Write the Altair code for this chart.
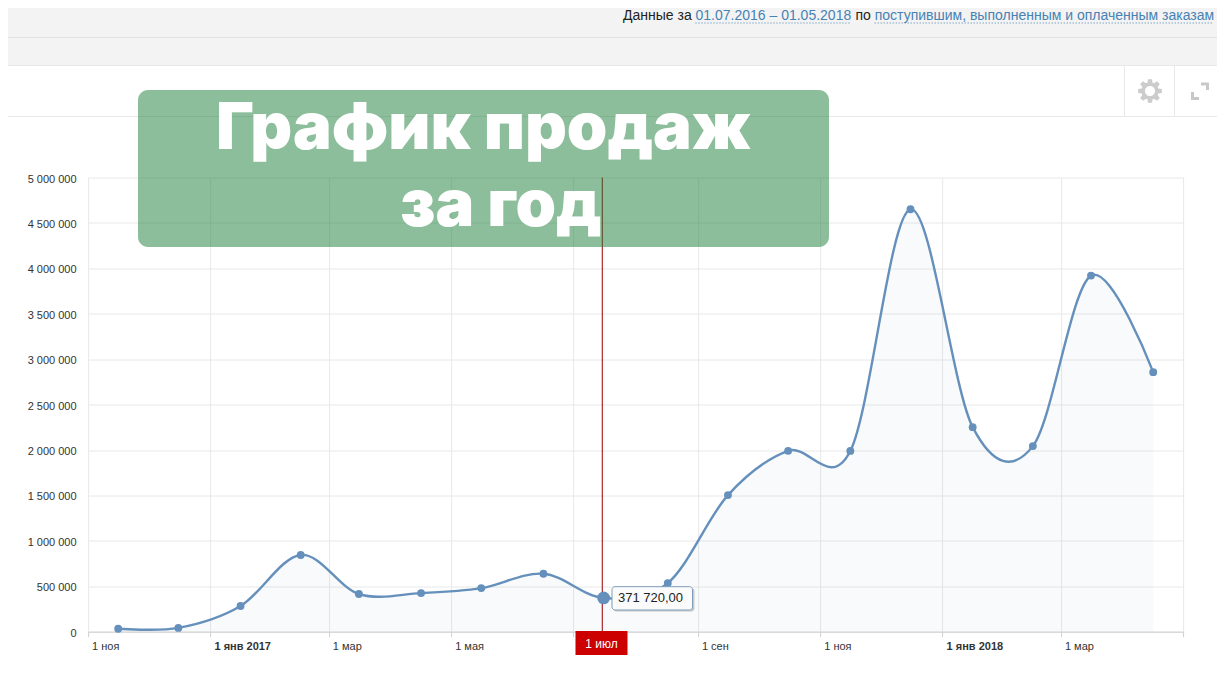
import math
import altair as alt
import pandas as pd

# --- series values
DATES = ["2016-11-16", "2016-12-16", "2017-01-16", "2017-02-15", "2017-03-16", "2017-04-16",
         "2017-05-16", "2017-06-16", "2017-07-16", "2017-08-17", "2017-09-16", "2017-10-16",
         "2017-11-16", "2017-12-16", "2018-01-16", "2018-02-15", "2018-03-16", "2018-04-16"]
VALUES = [33000, 42000, 283000, 845000, 415000, 425000, 480000, 638000, 371720, 535000,
          1504000, 1991000, 1990000, 4650000, 2252000, 2043000, 3920000, 2857000]
Y_TICKS = [0, 500000, 1000000, 1500000, 2000000, 2500000, 3000000, 3500000, 4000000, 4500000, 5000000]
X_TICKS = ["2016-11", "2017-01", "2017-03", "2017-05", "2017-07", "2017-09", "2017-11", "2018-01", "2018-03", "2018-05"]
X_LABELS = ["1 ноя", "1 янв 2017", "1 мар", "1 мая", "", "1 сен", "1 ноя", "1 янв 2018", "1 мар", ""]
HOVER_DATE = "2017-07-15T08:00:00"
HOVER_POINT_DATE = "2017-07-16"
HOVER_VALUE = 371720
HOVER_TEXT = "371 720,00"
HOVER_LABEL = "1 июл"
BANNER = ["График продаж", "за год"]
HEADER = ["Данные за", "01.07.2016 – 01.05.2018", "по", "поступившим, выполненным и оплаченным заказам"]

OX, OY = 88.1, 177.5
W, H = 1095.2, 454.2
LINE = "#6590bb"
FONT = "Liberation Sans"

df = pd.DataFrame({"date": [d + "T00:00:00" for d in DATES], "value": VALUES})
blank = alt.Data(values=[{"a": 1}])


def rect(x1, y1, x2, y2, fill, opacity=1.0, radius=0, stroke=None):
    kw = dict(fill=fill, opacity=opacity, cornerRadius=radius)
    if stroke:
        kw.update(stroke=stroke, strokeWidth=1)
    return alt.Chart(blank).mark_rect(**kw).encode(
        x=alt.value(x1 - OX), x2=alt.value(x2 - OX), y=alt.value(y1 - OY), y2=alt.value(y2 - OY))


def rule(x1, y1, x2, y2, color, width=1.0, dash=None):
    kw = dict(color=color, strokeWidth=width)
    if dash:
        kw.update(strokeDash=dash)
    return alt.Chart(blank).mark_rule(**kw).encode(
        x=alt.value(x1 - OX), x2=alt.value(x2 - OX), y=alt.value(y1 - OY), y2=alt.value(y2 - OY))


def label(x, y, s, color="#222", size=13, weight="normal", align="left", font=FONT, base="alphabetic"):
    return alt.Chart(alt.Data(values=[{"t": s}])).mark_text(
        color=color, fontSize=size, fontWeight=weight, align=align, font=font, baseline=base, clip=False
    ).encode(x=alt.value(x - OX), y=alt.value(y - OY), text="t:N")


def gear_path(teeth=8, outer=1.0, body=0.72, hole=0.42):
    pts = []
    step = 2 * math.pi / teeth
    for i in range(teeth):
        a = i * step
        for da, r in [(-0.30, body), (-0.17, outer), (0.17, outer), (0.30, body)]:
            pts.append((r * math.cos(a + da * step / 0.785), r * math.sin(a + da * step / 0.785)))
    d = "M" + " L".join(f"{x:.3f},{y:.3f}" for x, y in pts) + " Z "
    d += f"M{hole},0 A{hole},{hole} 0 1,0 {-hole},0 A{hole},{hole} 0 1,0 {hole},0 Z"
    return d


gear = alt.Chart(blank).mark_point(
    shape=gear_path(), filled=True, fill="#cccccc", opacity=1, size=576, strokeWidth=0
).encode(x=alt.value(1150 - OX), y=alt.value(91 - OY))

label_map = "{" + ",".join(f"'{k}':'{v}'" for k, v in zip(X_TICKS, X_LABELS)) + "}"
x_enc = alt.X(
    "date:T",
    scale=alt.Scale(domain=["2016-11-01T00:00:00", "2018-05-01T00:00:00"], nice=False),
    axis=alt.Axis(
        title=None, values=[t + "-01T00:00:00" for t in X_TICKS], format="%Y-%m",
        labelExpr=label_map + "[timeFormat(datum.value,'%Y-%m')]",
        labelFont=FONT, labelFontSize=11, labelColor="#333", labelAlign="left", labelOffset=3.5,
        labelPadding=4, labelBound=False, labelFlush=False, labelOverlap=False,
        labelFontWeight={"condition": {"test": "month(datum.value)==0", "value": "bold"}, "value": "normal"},
        domainColor="#d0d0d0", tickColor="#d0d0d0", tickSize=5, grid=True, gridColor="#e8e8e8",
    ),
)
y_enc = alt.Y(
    "value:Q",
    scale=alt.Scale(domain=[0, 5000000], nice=False),
    axis=alt.Axis(
        title=None, values=Y_TICKS, labelExpr="replace(format(datum.value,','),/,/g,' ')",
        labelFont=FONT, labelFontSize=11, labelColor="#333", labelPadding=12, labelOffset=1.5,
        ticks=False, domain=False, grid=True, gridColor="#e8e8e8",
    ),
)

base = alt.Chart(df)
area = base.mark_area(interpolate="cardinal", tension=0, fill="#6590bb", opacity=0.045).encode(x=x_enc, y=y_enc)
line = base.mark_line(interpolate="cardinal", tension=0, color=LINE, strokeWidth=2.4).encode(x=x_enc, y=y_enc)
pts = base.mark_circle(color=LINE, size=62, opacity=1).encode(x=x_enc, y=y_enc)
hover_pt = alt.Chart(alt.Data(values=[{"date": HOVER_POINT_DATE + "T00:00:00", "value": HOVER_VALUE}])).mark_circle(
    color=LINE, size=165, opacity=1).encode(x=x_enc, y=y_enc)
hover_rule = alt.Chart(alt.Data(values=[{"date": HOVER_DATE}])).mark_rule(color="#990000", strokeWidth=1).encode(
    x=x_enc)

layers = [
    rect(-10, -10, 1240, 66, "#f3f3f3"),
    rule(-10, 37.5, 1240, 37.5, "#e2e2e2"),
    rule(-10, 65.5, 1240, 65.5, "#e8e8e8"),
    rule(-10, 116.5, 1240, 116.5, "#e8e8e8"),
    rule(1124.5, 66, 1124.5, 116, "#e8e8e8"),
    rule(1174.5, 66, 1174.5, 116, "#e8e8e8"),
    gear,
    rule(1201, 84, 1209, 84, "#c8c8c8", 3),
    rule(1207.5, 83, 1207.5, 90, "#c8c8c8", 3),
    rule(1191, 98.5, 1199, 98.5, "#c8c8c8", 3),
    rule(1192.5, 92, 1192.5, 100, "#c8c8c8", 3),
    label(623, 20, HEADER[0], size=14),
    label(695.5, 20, HEADER[1], color="#4682b4", size=14),
    rule(695.5, 23, 851, 23, "#4682b4", 1, [1, 2]),
    label(855.5, 20, HEADER[2], size=14),
    label(874.7, 20, HEADER[3], color="#4682b4", size=14),
    rule(874.7, 23, 1213, 23, "#4682b4", 1, [1, 2]),
    area,
    hover_rule,
    line,
    pts,
    hover_pt,
    rect(575.5, 631, 627.5, 655, "#cc0000"),
    label(601.5, 648, HOVER_LABEL, color="#ffffff", size=12, align="center"),
    rect(613.5, 588, 694.5, 611.5, "#999999", opacity=0.5, radius=3),
    rect(612, 586.7, 692.5, 610, "#fbfbfb", radius=3, stroke="#7f9db9"),
    label(650.5, 602, HOVER_TEXT, size=13, align="center"),
    rect(138, 90, 829, 247, "#197d37", opacity=0.5, radius=10),
    label(483.5, 149, BANNER[0], color="#ffffff", size=65, weight=900, align="center", font="Inter"),
    label(501, 226, BANNER[1], color="#ffffff", size=65, weight=900, align="center", font="Inter"),
]

chart = alt.layer(*layers).properties(
    width=W, height=H,
    padding={"left": OX - 8, "top": OY - 8, "right": 1209 - (OX - 8) - W, "bottom": 672 - (OY - 8) - H},
    autosize=alt.AutoSizeParams(type="none"),
    background="#ffffff",
).configure_view(stroke=None)

chart.save("out.html", embed_options={"renderer": "svg", "actions": False})
